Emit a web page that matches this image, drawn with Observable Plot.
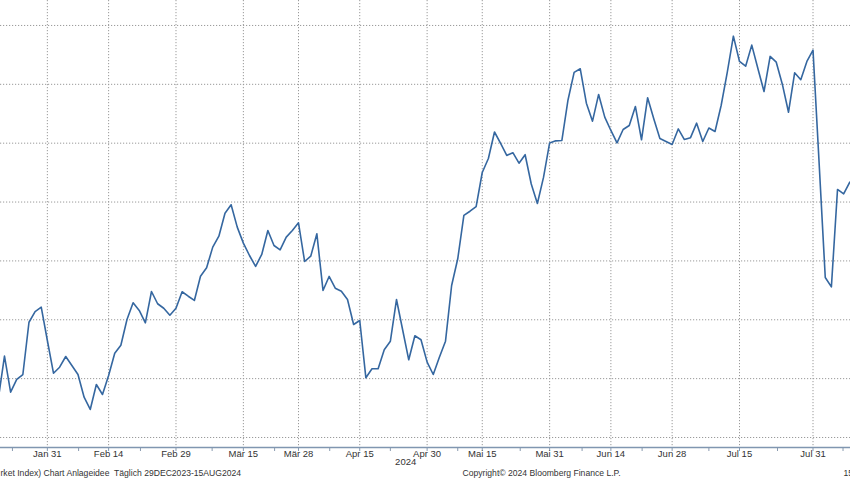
<!DOCTYPE html>
<html><head><meta charset="utf-8">
<script src="https://cdn.jsdelivr.net/npm/d3@7"></script>
<script src="https://cdn.jsdelivr.net/npm/@observablehq/plot@0.6"></script>
<style>html,body{margin:0;padding:0;background:#fff;overflow:hidden} svg{display:block}</style>
</head><body><div id="chart"></div>
<script>
// Index level per trading day (visible window, y-axis values not shown in the original)
const values = [
103.31,106.91,103.85,104.93,105.35,109.79,110.70,111.07,108.24,105.46,
105.97,106.88,106.12,105.35,103.42,102.38,104.50,103.65,105.27,107.16,
107.84,110.02,111.44,110.79,109.74,112.40,111.36,110.98,110.39,110.98,
112.38,112.00,111.64,113.70,114.42,116.17,117.10,119.05,119.77,117.87,
116.51,115.46,114.53,115.55,117.58,116.31,115.94,117.02,117.58,118.24,
114.95,115.40,117.30,112.49,113.68,112.68,112.43,111.72,109.60,109.94,
105.07,105.84,105.84,107.45,108.18,111.72,109.15,106.60,108.64,108.30,
106.40,105.35,106.82,108.18,112.91,115.18,118.86,119.22,119.62,122.51,
123.70,125.95,124.98,123.96,124.19,123.30,124.02,121.53,119.88,122.09,
125.02,125.20,125.23,128.67,131.01,131.32,128.40,126.87,129.14,127.21,
126.08,125.03,126.16,126.50,128.12,125.29,128.86,127.07,125.40,125.14,
124.89,126.21,125.31,125.47,126.70,125.14,126.29,125.99,128.20,131.01,
134.09,131.94,131.54,133.33,131.35,129.39,132.37,131.88,129.99,127.63,
130.98,130.39,131.94,132.90,123.28,113.59,112.79,121.07,120.70,121.69
];
const tickIndex  = [8, 18, 29, 40, 49, 59, 70, 79, 90, 100, 110, 121, 133];
const tickLabels = ["Jan 31","Feb 14","Feb 29","Mär 15","Mär 28","Apr 15","Apr 30","Mai 15","Mai 31","Jun 14","Jun 28","Jul 15","Jul 31"];
const minorTickIndex = [2.3, 13.1, 23.2, 34.9, 45.1, 54.1, 64.0, 75.0, 85.2, 95.3, 105.1, 116.0, 127.2, 137.9];
const gridValues = [100, 105, 110, 115, 120, 125, 130, 135];
const yearLabels = ["2024"];
const yearIndex = [66.5];
const footerLeft = "rket Index) Chart Anlageidee  Täglich 29DEC2023-15AUG2024";
const footerMid = "Copyright© 2024 Bloomberg Finance L.P.";
const footerRight = "15";

const xDomain = [0.35, 139.12];
const yDomain = [99.15, 137.12];
const FONT = "Liberation Sans, Arial, sans-serif";
const grid = "#9a9a9a";

const chart = Plot.plot({
  width: 850,
  height: 480,
  marginTop: 0,
  marginBottom: 33,
  marginLeft: 0,
  marginRight: 0,
  style: {fontFamily: FONT, fontSize: "9.5px", color: "#333", background: "#fff"},
  x: {type: "linear", domain: xDomain, axis: null},
  y: {type: "linear", domain: yDomain, axis: null},
  marks: [
    Plot.gridY(gridValues, {stroke: grid, strokeOpacity: 1, strokeDasharray: "1.2,1.8", strokeWidth: 1}),
    Plot.gridX(tickIndex, {stroke: grid, strokeOpacity: 1, strokeDasharray: "1.2,1.8", strokeWidth: 1}),
    Plot.axisX(minorTickIndex, {anchor: "bottom", tickSize: 4, stroke: "#8a9bb0", tickFormat: () => "", label: null}),
    Plot.axisX(tickIndex, {anchor: "bottom", tickSize: 4, stroke: "#8a9bb0", tickFormat: () => "", label: null}),
    Plot.axisX(tickIndex, {anchor: "bottom", tickSize: 0, tickPadding: 3, tickFormat: d => tickLabels[tickIndex.indexOf(d)], label: null, fill: "#333", fontSize: 9.5}),
    Plot.ruleY([yDomain[0]], {stroke: "#8096b0", strokeWidth: 1.3}),
    Plot.line(values, {x: (d, i) => i, y: d => d, stroke: "#3567a0", strokeWidth: 1.6, clip: true}),
    Plot.text(yearLabels, {x: (d, i) => yearIndex[i], text: d => d, frameAnchor: "bottom", dy: 17, fill: "#333", fontSize: 9.5}),
    Plot.text([footerLeft], {text: d => d, frameAnchor: "bottom-left", textAnchor: "start", dx: 0, dy: 28, fill: "#333", fontSize: 8.6}),
    Plot.text([footerMid], {text: d => d, frameAnchor: "bottom-left", textAnchor: "start", dx: 462, dy: 28, fill: "#333", fontSize: 8.6}),
    Plot.text([footerRight], {text: d => d, frameAnchor: "bottom-left", textAnchor: "start", dx: 843, dy: 28, fill: "#333", fontSize: 8.6})
  ]
});
document.getElementById("chart").appendChild(chart);
</script>
</body></html>
